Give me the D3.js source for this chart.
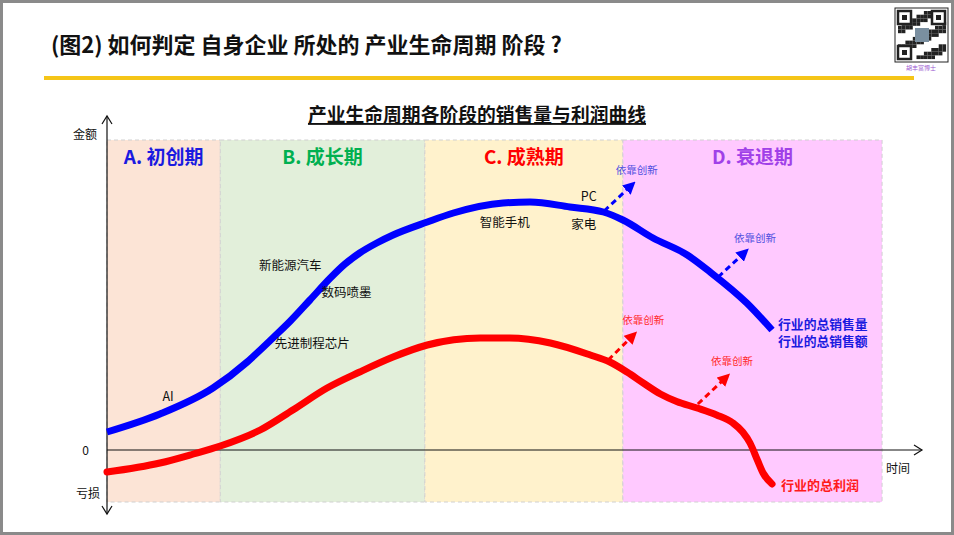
<!DOCTYPE html>
<html>
<head>
<meta charset="utf-8">
<script src="https://cdn.jsdelivr.net/npm/d3@7"></script>
<style>
  html, body { margin: 0; padding: 0; background: #fff; }
  svg { display: block; font-family: "Noto Sans CJK SC", "Noto Sans", sans-serif; }
</style>
</head>
<body>
<svg id="chart"></svg>
<script>
// ---- data (time 0..100, amount: 0 = break-even) ----
const phaseNames = ["A. 初创期", "B. 成长期", "C. 成熟期", "D. 衰退期"];
const phaseStarts = [0, 13.9, 39, 63.3];
const phaseEnd = 95.1;

const salesCurve = [
  [0, 1.8], [6.5, 3.6], [13, 6.2], [17.2, 8.8], [18.8, 10.0], [20.6, 11.4],
  [22.5, 12.9], [24.9, 15.0], [27.4, 17.2], [29.2, 18.6], [31.0, 19.7], [33.1, 20.7],
  [35.1, 21.5], [39.3, 22.8], [42.5, 23.7], [48.6, 24.7], [51.9, 24.8], [56.8, 24.3],
  [60.9, 23.8], [63.3, 23.0], [67.0, 21.2], [71.2, 19.5], [74.0, 17.8], [78.5, 14.7],
  [81.6, 12.0]
];
const profitCurve = [
  [0, -2.2], [6.5, -1.3], [10.6, -0.4], [13.9, 0.4], [18.8, 2.0], [22.8, 4.0],
  [27, 6.2], [31, 7.8], [35.1, 9.3], [39.3, 10.5], [45.8, 11.2], [49.4, 11.2],
  [54.4, 10.7], [59.3, 9.5], [61.7, 8.8], [63.8, 7.8], [65.8, 6.7], [67.9, 5.6],
  [69.9, 4.85], [72.4, 4.2], [74.8, 3.5], [76.8, 2.7], [78, 1.8], [78.9, 0.7],
  [79.8, -1.0], [80.5, -2.3], [81.6, -3.4]
];

// innovation arrows: [fromT, fromV, toT, toV]
const salesArrows = [[61.0, 23.9, 64.4, 26.5], [75.0, 17.3, 78.3, 19.8]];
const profitArrows = [[61.5, 9.0, 64.6, 11.5], [72.5, 4.6, 76.0, 7.3]];
const arrowText = "依靠创新";
const salesArrowLabels = [[65.0, 28.0], [79.5, 21.2]];
const profitArrowLabels = [[65.8, 13.0], [76.7, 8.9]];

// products along the curve: [name, t, v]
const products = [
  ["AI", 7.5, 5.4],
  ["新能源汽车", 22.5, 18.5],
  ["数码喷墨", 29.4, 15.8],
  ["先进制程芯片", 25.2, 10.7],
  ["智能手机", 48.8, 22.8],
  ["家电", 58.5, 22.6],
  ["PC", 59.1, 25.4]
];

const salesLabels = ["行业的总销售量", "行业的总销售额"];
const profitLabel = "行业的总利润";
const pageTitle = "(图2) 如何判定 自身企业 所处的 产业生命周期 阶段 ?";
const chartTitle = "产业生命周期各阶段的销售量与利润曲线";

// ---- styles ----
const width = 954, height = 535;
const phaseFills = ["#fce4d6", "#e2efda", "#fff2cc", "#ffc9ff"];
const phaseColors = ["#1a1ae0", "#00b050", "#ff0000", "#a040e8"];
const blue = "#0000ff", red = "#ff0000";

const svg = d3.select("#chart").attr("width", width).attr("height", height);

// frame
svg.append("rect").attr("x", 1.5).attr("y", 1.5)
  .attr("width", width - 3).attr("height", height - 3)
  .attr("fill", "#fff").attr("stroke", "#8a8a8a").attr("stroke-width", 3);

// page header
svg.append("text").attr("x", 51).attr("y", 53)
  .attr("font-size", 22).attr("font-weight", "bold").attr("fill", "#111")
  .text(pageTitle);
svg.append("rect").attr("x", 44).attr("y", 76).attr("width", 870).attr("height", 4)
  .attr("fill", "#f5c518");

// QR-like badge
const qr = svg.append("g").attr("transform", "translate(895,8)");
qr.append("rect").attr("width", 53).attr("height", 54).attr("fill", "#fff").attr("stroke", "#222");
const qrCells = d3.range(0, 13 * 13);
qr.selectAll("rect.cell").data(qrCells).enter().append("rect")
  .attr("class", "cell")
  .attr("x", d => 3 + (d % 13) * 3.7).attr("y", d => 3 + Math.floor(d / 13) * 3.7)
  .attr("width", 3.7).attr("height", 3.7)
  .attr("fill", d => ((d * 7919) % 11) < 5 ? "#222" : "none");
[[3, 3], [37, 3], [3, 38]].forEach(p => {
  qr.append("rect").attr("x", p[0]).attr("y", p[1]).attr("width", 13).attr("height", 13)
    .attr("fill", "#fff").attr("stroke", "#222").attr("stroke-width", 2.5);
  qr.append("rect").attr("x", p[0] + 4).attr("y", p[1] + 4).attr("width", 5).attr("height", 5).attr("fill", "#222");
});
qr.append("rect").attr("x", 20).attr("y", 20).attr("width", 14).attr("height", 14).attr("fill", "#7a8fa0");
svg.append("text").attr("x", 921).attr("y", 70).attr("text-anchor", "middle")
  .attr("font-size", 6).attr("fill", "#9b59d0").text("胡丰富博士");

// ---- scales ----
const x = d3.scaleLinear().domain([0, 100]).range([107, 922]);
const y = d3.scaleLinear().domain([-5.2, 31]).range([502, 140]);

// chart title
svg.append("text").attr("x", 477).attr("y", 122).attr("text-anchor", "middle")
  .attr("font-size", 18.8).attr("font-weight", "bold").attr("fill", "#111")
  .attr("text-decoration", "underline")
  .text(chartTitle);

// phase backgrounds
const phases = phaseNames.map((name, i) => ({
  name, start: phaseStarts[i], end: i < phaseStarts.length - 1 ? phaseStarts[i + 1] : phaseEnd, i
}));
svg.append("g").selectAll("rect").data(phases).enter().append("rect")
  .attr("x", d => x(d.start)).attr("y", y(31))
  .attr("width", d => x(d.end) - x(d.start)).attr("height", y(-5.2) - y(31))
  .attr("fill", d => phaseFills[d.i])
  .attr("stroke", "#d0d0d0").attr("stroke-width", 1).attr("stroke-dasharray", "4,3");
svg.append("g").selectAll("text").data(phases).enter().append("text")
  .attr("x", d => (x(d.start) + x(d.end)) / 2).attr("y", y(31) + 24)
  .attr("text-anchor", "middle").attr("font-size", 19).attr("font-weight", "bold")
  .attr("fill", d => phaseColors[d.i])
  .text(d => d.name);

// axes with open chevron arrows
const axisG = svg.append("g").attr("stroke", "#111").attr("fill", "none").attr("stroke-width", 1.2);
axisG.append("line").attr("x1", x(0)).attr("y1", 116).attr("x2", x(0)).attr("y2", 514);
axisG.append("polyline").attr("points", `${x(0) - 5},124 ${x(0)},116 ${x(0) + 5},124`);
axisG.append("polyline").attr("points", `${x(0) - 5},506 ${x(0)},514 ${x(0) + 5},506`);
axisG.append("line").attr("x1", x(0)).attr("y1", y(0)).attr("x2", x(100)).attr("y2", y(0));
axisG.append("polyline").attr("points", `${x(100) - 8},${y(0) - 5} ${x(100)},${y(0)} ${x(100) - 8},${y(0) + 5}`);

const axisText = svg.append("g").attr("font-size", 12).attr("fill", "#111");
axisText.append("text").attr("x", 97).attr("y", 139).attr("text-anchor", "end").text("金额");
axisText.append("text").attr("x", 89).attr("y", y(0) + 5).attr("text-anchor", "end").text("0");
axisText.append("text").attr("x", 100).attr("y", 498).attr("text-anchor", "end").text("亏损");
axisText.append("text").attr("x", x(100) - 24).attr("y", 473).attr("text-anchor", "middle").text("时间");

// arrow markers
const defs = svg.append("defs");
[["arrBlue", blue], ["arrRed", red]].forEach(([id, c]) => {
  defs.append("marker").attr("id", id).attr("viewBox", "0 0 10 10")
    .attr("refX", 6).attr("refY", 5).attr("markerWidth", 4.2).attr("markerHeight", 4.2)
    .attr("orient", "auto")
    .append("path").attr("d", "M0,0 L10,5 L0,10 z").attr("fill", c);
});

const line = d3.line().x(d => x(d[0])).y(d => y(d[1])).curve(d3.curveMonotoneX);

function drawArrows(arrows, color, marker) {
  svg.append("g").selectAll("line").data(arrows).enter().append("line")
    .attr("x1", d => x(d[0])).attr("y1", d => y(d[1]))
    .attr("x2", d => x(d[2])).attr("y2", d => y(d[3]))
    .attr("stroke", color).attr("stroke-width", 3).attr("stroke-dasharray", "6,4")
    .attr("marker-end", `url(#${marker})`);
}
drawArrows(salesArrows, blue, "arrBlue");
drawArrows(profitArrows, red, "arrRed");

// curves
svg.append("path").datum(salesCurve).attr("d", line)
  .attr("fill", "none").attr("stroke", blue).attr("stroke-width", 7);
svg.append("path").datum(profitCurve).attr("d", line)
  .attr("fill", "none").attr("stroke", red).attr("stroke-width", 7).attr("stroke-linecap", "round");

// arrow labels
svg.append("g").selectAll("text").data(salesArrowLabels).enter().append("text")
  .attr("x", d => x(d[0])).attr("y", d => y(d[1]) + 4).attr("text-anchor", "middle")
  .attr("font-size", 10.5).attr("fill", "#5050e0").text(arrowText);
svg.append("g").selectAll("text").data(profitArrowLabels).enter().append("text")
  .attr("x", d => x(d[0])).attr("y", d => y(d[1]) + 4).attr("text-anchor", "middle")
  .attr("font-size", 10.5).attr("fill", "#ff2a2a").text(arrowText);

// product annotations
svg.append("g").selectAll("text").data(products).enter().append("text")
  .attr("x", d => x(d[1])).attr("y", d => y(d[2]) + 4.5).attr("text-anchor", "middle")
  .attr("font-size", 12.5).attr("fill", "#111").text(d => d[0]);

// end labels
const lastSales = salesCurve[salesCurve.length - 1];
svg.append("g").selectAll("text").data(salesLabels).enter().append("text")
  .attr("x", x(lastSales[0]) + 6).attr("y", (d, i) => y(lastSales[1]) - 1.5 + i * 17.5)
  .attr("font-size", 12.8).attr("font-weight", "bold").attr("fill", "#1a1ae0").text(d => d);
const lastProfit = profitCurve[profitCurve.length - 1];
svg.append("text").attr("x", x(lastProfit[0]) + 9).attr("y", y(lastProfit[1]) + 6)
  .attr("font-size", 13).attr("font-weight", "bold").attr("fill", "#ff1a1a").text(profitLabel);
</script>
</body>
</html>
